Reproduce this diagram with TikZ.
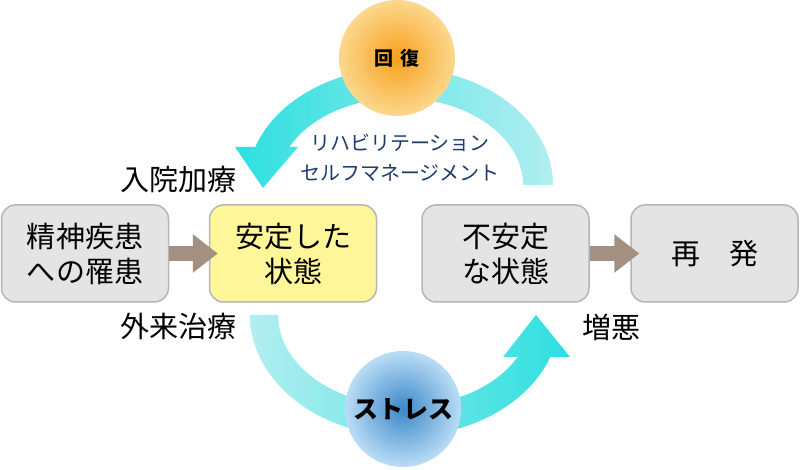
\documentclass[tikz,border=0pt]{standalone}
\usepackage{fontspec}
\setmainfont{Noto Sans CJK JP}
\usepackage{pdfrender}
\usetikzlibrary{positioning,arrows.meta}

\definecolor{boxgray}{HTML}{E4E4E4}
\definecolor{boxline}{HTML}{B5B5B5}
\definecolor{calmyellow}{HTML}{FFF599}
\definecolor{taupe}{HTML}{A39080}
\definecolor{cyanstrong}{HTML}{2EDFE0}
\definecolor{cyanpale}{HTML}{B2EEF0}
\definecolor{navy}{HTML}{1C3C6C}
\definecolor{orangecore}{HTML}{F8A01C}
\definecolor{orangerim}{HTML}{FBD88E}
\definecolor{bluecore}{HTML}{3C88C8}
\definecolor{bluerim}{HTML}{BADDF6}

\newcommand{\haloed}[1]{\textpdfrender{TextRenderingMode=FillStroke, LineWidth=1.7pt, LineJoin=1, StrokeColor=white, FillColor=black}{\bfseries #1}}

\begin{document}
\begin{tikzpicture}[x=1pt, y=1pt,
	box/.style = {draw=boxline, line width=1.5pt, rounded corners=14pt, fill=boxgray, minimum width=167pt, minimum height=97pt, inner sep=0pt, align=center, font=\fontsize{29}{35}\selectfont},
	care/.style = {font=\fontsize{29}{35}\selectfont},
	note/.style = {text=navy, align=center, font=\fontsize{20}{30}\selectfont},
	ball/.style = {circle, minimum size=116pt, inner sep=0pt},
	push/.style = {line width=15pt, draw=taupe, -{Triangle[length=25pt, width=37pt]}}]
		\useasboundingbox (0,0) rectangle (800,470);
		% recovery arc and stress arc
		\shade[left color=cyanstrong, right color=cyanpale] (553,285) arc[start angle=0, end angle=161, x radius=153, y radius=117] -- (235,323) -- (263,282) -- (298,323) -- (289.4,323) arc[start angle=154.1, end angle=0, x radius=123, y radius=87] -- cycle;
		\shade[left color=cyanpale, right color=cyanstrong] (250,155) arc[start angle=180, end angle=339.7, x radius=155, y radius=121] -- (570,113) -- (536,155) -- (503,113) -- (517.7,113) arc[start angle=332.5, end angle=180, x radius=127, y radius=91] -- cycle;
		\node[ball, inner color=orangecore, outer color=orangerim] (recover) at (397,412) {\fontsize{19}{19}\selectfont\haloed{回\hspace{7pt}復}};
		\node[ball, inner color=bluecore, outer color=bluerim] (stress) at (403,61) {\fontsize{25}{25}\selectfont\haloed{ストレス}};
		\node[box] (ill) at (85,216.5) {精神疾患\\への罹患};
		\node[box, fill=calmyellow] (stable) [right=39.5pt of ill] {安定した\\状態};
		\node[box] (unstable) [right=44pt of stable] {不安定\\な状態};
		\node[box] (relapse) [right=40.5pt of unstable] {再　発};
		\draw[push] (ill.east) -- ([xshift=9pt]stable.west);
		\draw[push] (unstable.east) -- ([xshift=9pt]relapse.west);
		\node[care] (inpatient) at (178,290) {入院加療};
		\node[care] (outpatient) at (178,144) {外来治療};
		\node[care] (worse) at (611,143) {増悪};
		\node[note] (rehab) at (400,312) {リハビリテーション\\セルフマネージメント};
\end{tikzpicture}
\end{document}
